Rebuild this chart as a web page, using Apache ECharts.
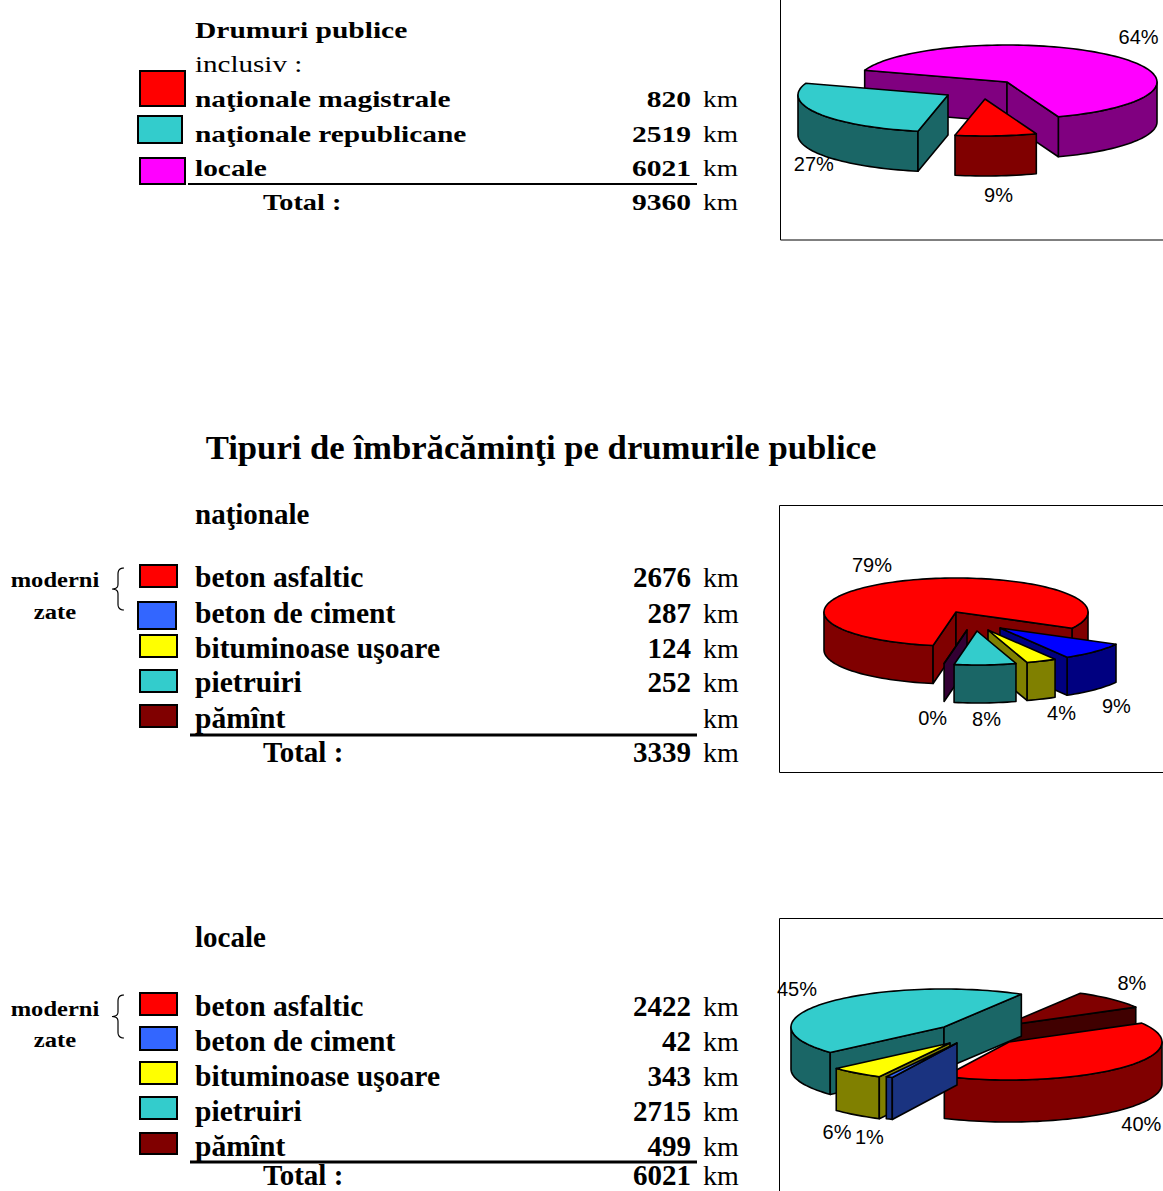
<!DOCTYPE html>
<html>
<head>
<meta charset="utf-8">
<script src="https://cdn.jsdelivr.net/npm/echarts@6/dist/echarts.min.js"></script>
<style>
  html, body { margin: 0; padding: 0; background: #fff; }
  #page { width: 1163px; height: 1191px; }
</style>
</head>
<body>
<div id="page"></div>
<script>
// drumuri publice
const drumuriNames = ['naţionale magistrale', 'naţionale republicane', 'locale']
const drumuriKm = [820, 2519, 6021]
const drumuriTotal = 9360
const drumuriPct = ['9%', '27%', '64%']

// tipuri de imbracaminti
const tipNames = ['beton asfaltic', 'beton de ciment', 'bituminoase uşoare', 'pietruiri', 'pămînt']
const nationaleKm = [2676, 287, 124, 252, 0]
const nationaleTotal = 3339
const nationalePct = ['79%', '9%', '4%', '8%', '0%']
const localeKm = [2422, 42, 343, 2715, 499]
const localeTotal = 6021
const localePct = ['40%', '1%', '6%', '45%', '8%']

const SERIF = '"Liberation Serif", "Times New Roman", serif'
const SANS = '"Liberation Sans", Arial, sans-serif'
const rad = d => d * Math.PI / 180

function txt(x, y, text, font, opt) {
  opt = opt || {}
  return {
    type: 'text', x: x, y: y, scaleX: opt.sx || 1, z: 10,
    style: {
      text: text, x: 0, y: 0, font: font, fill: '#000',
      align: opt.align || 'left', textAlign: opt.align || 'left',
      verticalAlign: 'middle', textVerticalAlign: 'middle'
    }
  }
}
function box(x, y, w, h, fill, lw) {
  return { type: 'rect', z: 10, shape: { x: x, y: y, width: w, height: h },
    style: { fill: fill, stroke: '#000', lineWidth: lw || 2 } }
}
function hline(x1, x2, y, lw) {
  return { type: 'line', z: 10, shape: { x1: x1, y1: y, x2: x2, y2: y },
    style: { stroke: '#000', lineWidth: lw } }
}
// acolada din curbe quadratice
function brace(top, bottom) {
  const m = (top + bottom) / 2, pts = []
  const q = (p0, p1, p2) => { for (let k = 0; k <= 8; k++) { const t = k / 8
    pts.push([(1 - t) * (1 - t) * p0[0] + 2 * t * (1 - t) * p1[0] + t * t * p2[0],
      (1 - t) * (1 - t) * p0[1] + 2 * t * (1 - t) * p1[1] + t * t * p2[1]]) } }
  q([124, top], [118, top], [118, top + 6])
  q([118, m - 5], [118, m], [112, m])
  q([112, m], [118, m], [118, m + 5])
  q([118, bottom - 6], [118, bottom], [124, bottom])
  return { type: 'polyline', z: 10, shape: { points: pts },
    style: { fill: 'none', stroke: '#000', lineWidth: 1.2 } }
}

const g = []
// ---- sectiunea 1
const f1b = 'bold 24px ' + SERIF, f1 = 'normal 24px ' + SERIF, s1 = 1.225
g.push(txt(195, 30, 'Drumuri publice', f1b, { sx: 1.23 }))
g.push(txt(195, 64, 'inclusiv :', f1, { sx: 1.21 }))
const rows1 = [99, 134, 168]
const sw1 = [[140, 71, 45, 35, '#FF0000'], [138, 116, 44, 27, '#33CCCC'], [140, 158, 45, 26, '#FF00FF']]
drumuriNames.forEach((n, i) => {
  g.push(box(sw1[i][0], sw1[i][1], sw1[i][2], sw1[i][3], sw1[i][4]))
  g.push(txt(195, rows1[i], n, f1b, { sx: s1 }))
  g.push(txt(691, rows1[i], String(drumuriKm[i]), f1b, { sx: 1.23, align: 'right' }))
  g.push(txt(703, rows1[i], 'km', f1, { sx: 1.14 }))
})
g.push(hline(188, 697, 184, 2))
g.push(txt(263, 202, 'Total :', f1b, { sx: 1.18 }))
g.push(txt(691, 202, String(drumuriTotal), f1b, { sx: 1.23, align: 'right' }))
g.push(txt(703, 202, 'km', f1, { sx: 1.14 }))

// ---- titlu
g.push(txt(541, 447, 'Tipuri de îmbrăcăminţi pe drumurile publice', 'bold 34px ' + SERIF, { sx: 1.02, align: 'center' }))

// ---- sectiunile 2 si 3
const f2b = 'bold 29px ' + SERIF, f2 = 'normal 28px ' + SERIF
const tipColors = ['#FF0000', '#3366FF', '#FFFF00', '#33CCCC', '#800000']
function tabel(head, headY, rows, sw, km, total, totalY, lineY, braceTop, braceBot) {
  g.push(txt(195, headY, head, f2b))
  g.push(txt(55, rows[0] + 3, 'moderni', 'bold 21px ' + SERIF, { sx: 1.17, align: 'center' }))
  g.push(txt(55, rows[1] - 1, 'zate', 'bold 21px ' + SERIF, { sx: 1.17, align: 'center' }))
  g.push(brace(braceTop, braceBot))
  tipNames.forEach((n, i) => {
    g.push(box(sw[i][0], sw[i][1], sw[i][2], sw[i][3], tipColors[i]))
    g.push(txt(195, rows[i], n, f2b, { sx: 1.02 }))
    if (km[i]) g.push(txt(691, rows[i], String(km[i]), f2b, { align: 'right' }))
    g.push(txt(703, rows[i], 'km', f2))
  })
  g.push(hline(190, 697, lineY, 3))
  g.push(txt(263, totalY, 'Total :', f2b))
  g.push(txt(691, totalY, String(total), f2b, { align: 'right' }))
  g.push(txt(703, totalY, 'km', f2))
}
tabel('naţionale', 514, [577, 613, 648, 682, 718],
  [[140, 565, 37, 22], [138, 602, 38, 27], [140, 635, 37, 22], [140, 670, 37, 22], [140, 705, 37, 22]],
  nationaleKm, nationaleTotal, 752, 735, 568, 610)
tabel('locale', 937, [1006, 1041, 1076, 1111, 1146],
  [[140, 993, 37, 22], [140, 1027, 37, 23], [140, 1062, 37, 22], [140, 1097, 37, 22], [140, 1133, 37, 21]],
  localeKm, localeTotal, 1175, 1162, 995, 1038)

// ---- chenare pentru diagrame
g.push({ type: 'rect', z: 0, shape: { x: 780.5, y: -10, width: 400, height: 250 }, style: { fill: 'none', stroke: '#000', lineWidth: 1 } })
g.push({ type: 'rect', z: 0, shape: { x: 779.5, y: 505.5, width: 400, height: 267 }, style: { fill: 'none', stroke: '#000', lineWidth: 1 } })
g.push({ type: 'rect', z: 0, shape: { x: 779.5, y: 918.5, width: 400, height: 300 }, style: { fill: 'none', stroke: '#000', lineWidth: 1 } })

// pie 3D din poligoane: fata de sus, perete exterior si fetele radiale vizibile
function pie3d(values, labels, cfg) {
  const total = values.reduce((s, v) => s + v, 0)
  const starts = []
  let acc = cfg.start
  values.forEach(v => { starts.push(acc); acc += v / total * 360 })
  const mids = values.map((v, i) => starts[i] + v / total * 180)
  const order = values.map((v, i) => i).sort((a, b) =>
    (Math.sin(rad(mids[a])) + cfg.off[a][1] / 100) - (Math.sin(rad(mids[b])) + cfg.off[b][1] / 100))
  return {
    type: 'custom', coordinateSystem: 'none', silent: true, animation: false,
    data: values,
    renderItem: function (params, api) {
      const i = params.dataIndex
      const a = starts[i], b = a + api.value(0) / total * 360
      const ox = cfg.cx + cfg.off[i][0], oy = cfg.cy + cfg.off[i][1]
      const h = cfg.h, rank = order.indexOf(i) * 10
      const pt = (t, z) => [ox + cfg.rx * Math.cos(rad(t)), oy + cfg.ry * Math.sin(rad(t)) + z]
      const arc = (t1, t2, z) => {
        const n = Math.max(1, Math.ceil(Math.abs(t2 - t1) / 2)), pts = []
        for (let k = 0; k <= n; k++) pts.push(pt(t1 + (t2 - t1) * k / n, z))
        return pts
      }
      const st = (fill) => ({ fill: fill, stroke: '#000', lineWidth: 1.6, lineJoin: 'round' })
      const kids = []
      for (let k = -1; k <= 2; k++) {
        const lo = Math.max(a, 360 * k), hi = Math.min(b, 360 * k + 180)
        if (hi > lo) kids.push({ type: 'polygon', z2: rank + 1,
          shape: { points: arc(lo, hi, 0).concat(arc(hi, lo, h)) }, style: st(cfg.side[i]) })
      }
      const face = t => [[ox, oy], pt(t, 0), pt(t, h), [ox, oy + h]]
      if (Math.cos(rad(a)) < 0) kids.push({ type: 'polygon', z2: rank + 2, shape: { points: face(a) }, style: st(cfg.side[i]) })
      if (Math.cos(rad(b)) > 0) kids.push({ type: 'polygon', z2: rank + 2, shape: { points: face(b) }, style: st(cfg.side[i]) })
      kids.push({ type: 'polygon', z2: rank + 3, shape: { points: [[ox, oy]].concat(arc(a, b, 0)) }, style: st(cfg.top[i]) })
      const m = rad(mids[i]), sn = Math.sin(m)
      kids.push({ type: 'text', z2: 200,
        x: ox + (cfg.rx + 20) * Math.cos(m) + cfg.lab[i][0],
        y: oy + (cfg.ry + 20) * sn + (sn > 0 ? h : 0) + cfg.lab[i][1],
        style: { text: labels[i], font: 'normal 20px ' + SANS, fill: '#000', align: 'center', textAlign: 'center',
          verticalAlign: 'middle', textVerticalAlign: 'middle' } })
      return { type: 'group', children: kids }
    }
  }
}

const option = {
  animation: false,
  graphic: { elements: g },
  series: [
    pie3d(drumuriKm, drumuriPct, {
      cx: 1007, cy: 82, rx: 150, ry: 37, h: 40, start: 70,
      off: [[-22, 17], [-59, 13], [0, 0]],
      lab: [[1, -1], [13, 0], [13, -4]],
      top: ['#FF0000', '#33CCCC', '#FF00FF'],
      side: ['#800000', '#1A6666', '#800080']
    }),
    pie3d(nationaleKm, nationalePct, {
      cx: 956, cy: 612, rx: 132, ry: 34, h: 38, start: 100,
      off: [[0, 0], [44, 16], [32, 18], [21, 19], [11, 18]],
      lab: [[-18, 2], [7, 2], [12, -4], [0, -4], [-8, -3]],
      top: ['#FF0000', '#0000FF', '#FFFF00', '#33CCCC', '#800000'],
      side: ['#800000', '#000080', '#808000', '#1A6666', '#330033']
    }),
    pie3d(localeKm, localePct, {
      cx: 980, cy: 1033, rx: 153, ry: 38, h: 42, start: 330.2,
      off: [[29, 9], [-23, 10], [-30, 10], [-36, -6], [23, -7]],
      lab: [[5, 1], [-11, 0], [-7, 1], [-13, -1], [6, -2]],
      top: ['#FF0000', '#3366FF', '#FFFF00', '#33CCCC', '#800000'],
      side: ['#800000', '#1A3380', '#808000', '#1A6666', '#400000']
    })
  ]
}

const chart = echarts.init(document.getElementById('page'), null, { renderer: 'svg' })
chart.setOption(option)
</script>
</body>
</html>
